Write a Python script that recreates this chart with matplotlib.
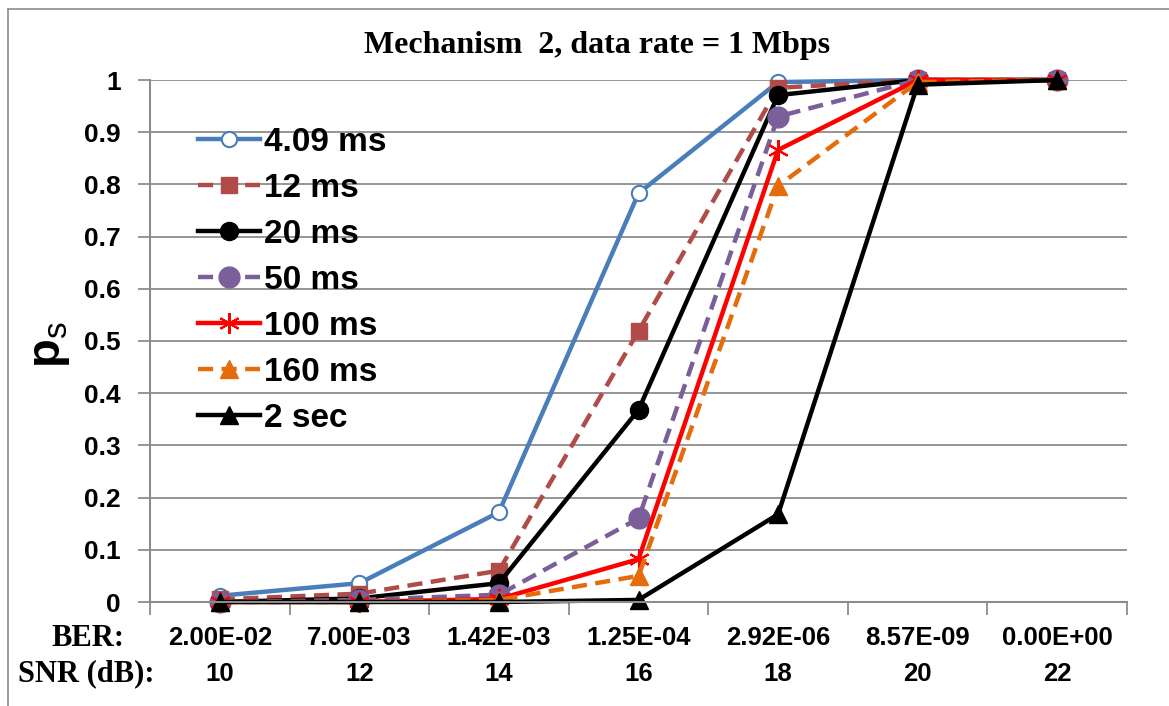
import matplotlib
matplotlib.use("Agg")
import matplotlib.pyplot as plt
from matplotlib.lines import Line2D

plt.rcParams['mathtext.fontset'] = 'custom'
plt.rcParams['mathtext.bf'] = 'Liberation Sans:bold'
plt.rcParams['mathtext.rm'] = 'Liberation Sans'

# ---- data ----
ber_labels = ["2.00E-02", "7.00E-03", "1.42E-03", "1.25E-04", "2.92E-06", "8.57E-09", "0.00E+00"]
snr_labels = ["10", "12", "14", "16", "18", "20", "22"]
series_names = ["4.09 ms", "12 ms", "20 ms", "50 ms", "100 ms", "160 ms", "2 sec"]
ps_409ms = [0.012, 0.036, 0.172, 0.783, 0.996, 1.0, 1.0]
ps_12ms = [0.005, 0.016, 0.060, 0.519, 0.985, 1.0, 1.0]
ps_20ms = [0.0, 0.007, 0.036, 0.368, 0.971, 1.0, 1.0]
ps_50ms = [0.0, 0.004, 0.014, 0.160, 0.930, 1.0, 1.0]
ps_100ms = [0.0, 0.0, 0.006, 0.082, 0.866, 1.0, 1.0]
ps_160ms = [0.0, 0.0, 0.004, 0.050, 0.797, 0.996, 1.0]
ps_2sec = [0.0, 0.0, 0.0, 0.004, 0.168, 0.991, 1.0]
y_ticks = [0.0, 0.1, 0.2, 0.3, 0.4, 0.5, 0.6, 0.7, 0.8, 0.9, 1.0]
y_tick_labels = ["0", "0.1", "0.2", "0.3", "0.4", "0.5", "0.6", "0.7", "0.8", "0.9", "1"]

W, H = 1169, 706
fig = plt.figure(figsize=(W / 100, H / 100), dpi=100)
ax = fig.add_axes([150 / W, (H - 602) / H, (1127 - 150) / W, (602 - 80) / H])

x = list(range(len(snr_labels)))
dash = (0, (3.4, 1.9))
styles = [
    dict(color='#4a7ebb', ls='-', marker='o', ms=11, mfc='white', mec='#4a7ebb', mew=1.5, lw=3.2),
    dict(color='#b04b47', ls=dash, marker='s', ms=11, mfc='#b04b47', mec='#b04b47', lw=3.2),
    dict(color='black', ls='-', marker='o', ms=13, mfc='black', mec='black', lw=3.2),
    dict(color='#7a5f9a', ls=dash, marker='o', ms=15, mfc='#7a5f9a', mec='#7a5f9a', lw=3.2),
    dict(color='#ff0000', ls='-', marker=(6, 2, 0), ms=15, mfc='#ff0000', mec='#ff0000', mew=1.5, lw=3.2),
    dict(color='#e46c0a', ls=dash, marker='^', ms=13, mfc='#e46c0a', mec='#e46c0a', lw=3.2),
    dict(color='black', ls='-', marker='^', ms=13, mfc='black', mec='black', lw=3.2),
]
all_series = [ps_409ms, ps_12ms, ps_20ms, ps_50ms, ps_100ms, ps_160ms, ps_2sec]
for name, vals, st in zip(series_names, all_series, styles):
    ax.plot(x, vals, label=name, clip_on=False, **st)

ax.set_xlim(-0.5, len(x) - 0.5)
ax.set_ylim(0, 1)
ax.set_yticks(y_ticks)
ax.set_yticklabels(y_tick_labels, fontsize=19, fontweight='bold', family='Liberation Sans')
ax.yaxis.grid(True, color='#8c8c8c', lw=1.3)
ax.set_axisbelow(True)
ax.tick_params(axis='y', length=9, width=1.3, color='#8c8c8c', pad=12)

# category boundary ticks
ax.set_xticks([i - 0.5 for i in range(len(x) + 1)])
ax.set_xticklabels([])
ax.tick_params(axis='x', length=9, width=1.3, color='#8c8c8c', direction='out')

for s in ['top', 'right']:
    ax.spines[s].set_visible(False)
for s in ['left', 'bottom']:
    ax.spines[s].set_color('#8c8c8c')
    ax.spines[s].set_linewidth(1.5)

# table-like labels below axis
trans = ax.get_xaxis_transform()
for i, (b, s) in enumerate(zip(ber_labels, snr_labels)):
    ax.text(i, (602 - 638) / 522, b, transform=trans, ha='center', va='center',
            fontsize=18.5, fontweight='bold', family='Liberation Sans')
    ax.text(i, (602 - 674) / 522, s, transform=trans, ha='center', va='center',
            fontsize=18.5, fontweight='bold', family='Liberation Sans')
fig.text(124 / W, 1 - 638 / H, "BER:", ha='right', va='center',
         fontsize=22, fontweight='bold', family='Liberation Serif')
fig.text(154 / W, 1 - 674 / H, "SNR (dB):", ha='right', va='center',
         fontsize=22, fontweight='bold', family='Liberation Serif')

# title
fig.text(597 / W, 1 - 46 / H, "Mechanism  2, data rate = 1 Mbps", ha='center', va='center',
         fontsize=23, fontweight='bold', family='Liberation Serif')

# y label
fig.text(50 / W, 1 - 345 / H, r'$\mathbf{p}_{\mathrm{s}}$', rotation=90, ha='center', va='center',
         fontsize=34)

leg = ax.legend(loc='upper left', bbox_to_anchor=((198 - 150) / 977, (602 - 127) / 522),
                frameon=False, prop=dict(family='Liberation Sans', weight='bold', size=24),
                handlelength=1.85, handletextpad=0.12, labelspacing=0.45,
                borderpad=0, borderaxespad=0)

# figure border (left & top)
fig.add_artist(Line2D([8 / W, 8 / W], [0, 1 - 9 / H], transform=fig.transFigure, color='#8c8c8c', lw=1.2))
fig.add_artist(Line2D([8 / W, 1], [1 - 9 / H, 1 - 9 / H], transform=fig.transFigure, color='#8c8c8c', lw=1.2))

fig.savefig("out.png", dpi=100)
